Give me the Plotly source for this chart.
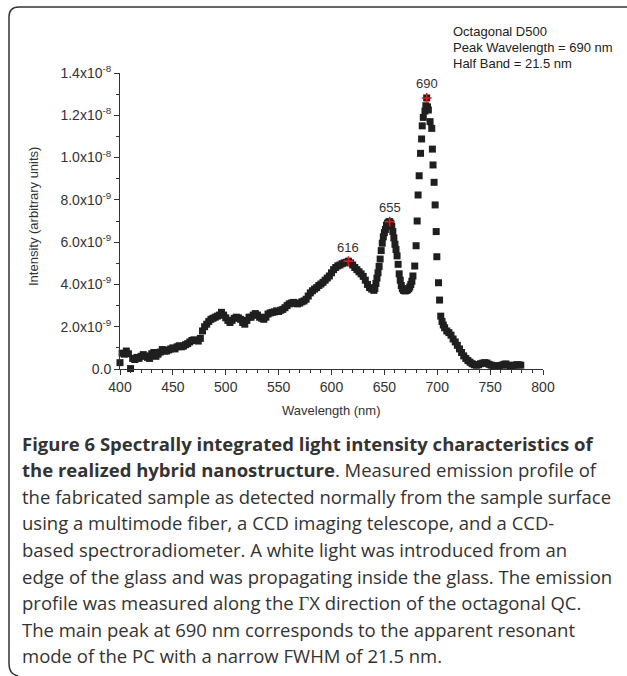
import plotly.graph_objects as go

# ---------------- data (intensity in units of 1e-9) ----------------
wl_a = list(range(400, 640, 2))
int_a = [0.30, 0.75, 0.70, 0.85, 0.72, 0.02, 0.50, 0.45, 0.55, 0.50,
         0.60, 0.68, 0.62, 0.55, 0.50, 0.72, 0.78, 0.60, 0.70, 0.80,
         0.92, 0.85, 0.85, 0.90, 0.95, 1.00, 0.95, 1.05, 1.10, 1.05,
         1.08, 1.15, 1.20, 1.28, 1.35, 1.38, 1.35, 1.32, 1.45, 1.80,
         2.00, 2.12, 2.25, 2.35, 2.40, 2.45, 2.50, 2.55, 2.68, 2.55,
         2.42, 2.30, 2.20, 2.30, 2.40, 2.45, 2.42, 2.35, 2.20, 2.12,
         2.30, 2.45, 2.45, 2.55, 2.62, 2.55, 2.45, 2.40, 2.35, 2.45,
         2.60, 2.65, 2.68, 2.70, 2.75, 2.72, 2.78, 2.82, 2.90, 3.00,
         3.08, 3.12, 3.15, 3.10, 3.08, 3.12, 3.18, 3.22, 3.30, 3.45,
         3.60, 3.70, 3.78, 3.85, 3.95, 4.02, 4.10, 4.20, 4.30, 4.40,
         4.55, 4.70, 4.80, 4.88, 4.92, 4.98, 5.02, 5.05, 5.10, 5.02,
         4.92, 4.80, 4.70, 4.60, 4.50, 4.38, 4.20, 4.00, 3.85, 3.78]

wl_b = [640, 641, 642, 643, 644, 645, 646, 647, 648, 649,
        650, 651, 652, 653, 654, 655, 656, 657, 658, 659,
        660, 661, 662, 663, 664, 665, 666, 667, 668, 669,
        670, 671, 672, 673, 674, 675, 676, 677, 678.7, 680.0,
        681.0, 681.9, 682.9, 684.2, 685.2, 685.8, 686.8, 688.4, 689.2, 690.0,
        690.8, 691.6, 693.2, 694.8, 695.4, 696.0, 697.0, 698.0, 699.0, 699.6,
        701.2, 702.2, 703.3, 704.5, 705.7]
int_b = [3.72, 3.80, 4.05, 4.30, 4.55, 4.85, 5.20, 5.60, 5.95, 6.25,
         6.45, 6.60, 6.80, 6.90, 6.95, 6.97, 6.90, 6.75, 6.50, 6.20,
         5.90, 5.65, 5.35, 4.95, 4.50, 4.20, 3.95, 3.80, 3.72, 3.70,
         3.70, 3.72, 3.75, 3.80, 3.88, 4.00, 4.15, 4.40, 4.87, 5.83,
         7.00, 8.23, 9.14, 10.20, 10.88, 11.50, 11.90, 12.20, 12.45, 12.82,
         12.40, 12.25, 11.70, 11.38, 10.40, 9.65, 8.83, 7.76, 6.50, 5.31,
         4.08, 3.26, 2.50, 2.25, 2.08]

wl_c = list(range(707, 781, 2))
int_c = [1.95, 1.80, 1.72, 1.60, 1.42, 1.28, 1.12, 0.95, 0.78, 0.62,
         0.50, 0.40, 0.32, 0.25, 0.20, 0.18, 0.20, 0.25, 0.28, 0.30,
         0.28, 0.22, 0.18, 0.15, 0.15, 0.13, 0.15, 0.18, 0.22, 0.24,
         0.18, 0.14, 0.15, 0.18, 0.20, 0.20, 0.18]

peak_wl = [616, 655, 690]
peak_int = [5.10, 6.97, 12.82]
peak_labels = ["616", "655", "690"]

y_tickvals = [0, 2, 4, 6, 8, 10, 12, 14]
y_ticktext = ["0.0", "2.0x10<sup>-9</sup>", "4.0x10<sup>-9</sup>", "6.0x10<sup>-9</sup>",
              "8.0x10<sup>-9</sup>", "1.0x10<sup>-8</sup>", "1.2x10<sup>-8</sup>",
              "1.4x10<sup>-8</sup>"]

info_lines = ["Octagonal D500", "Peak Wavelength = 690 nm", "Half Band = 21.5 nm"]

caption_lines = [
    "<b>Figure 6 Spectrally integrated light intensity characteristics of</b>",
    "<b>the realized hybrid nanostructure</b>. Measured emission profile of",
    "the fabricated sample as detected normally from the sample surface",
    "using a multimode fiber, a CCD imaging telescope, and a CCD-",
    "based spectroradiometer. A white light was introduced from an",
    "edge of the glass and was propagating inside the glass. The emission",
    "profile was measured along the <span style='font-family:Liberation Serif'>Γ</span>X direction of the octagonal QC.",
    "The main peak at 690 nm corresponds to the apparent resonant",
    "mode of the PC with a narrow FWHM of 21.5 nm.",
]

# ---------------- layout geometry ----------------
W, H = 627, 676
L, R, T, B = 120, 543, 73, 369  # plot area in px


def px(xp):
    return (xp - L) / (R - L)


def py(yp):
    return (B - yp) / (B - T)


scale = 1e-9
wl = wl_a + wl_b + wl_c
inten = [v * scale for v in int_a + int_b + int_c]

fig = go.Figure()
fig.add_trace(go.Scatter(
    x=wl, y=inten, mode="markers", cliponaxis=False,
    marker=dict(symbol="square", size=7, color="#1f1f1f", line=dict(width=0)),
    showlegend=False, hoverinfo="skip"))
fig.add_trace(go.Scatter(
    x=peak_wl, y=[v * scale for v in peak_int], mode="markers", cliponaxis=False,
    marker=dict(symbol="cross-thin", size=7, color="#e8141c",
                line=dict(width=1.6, color="#e8141c")),
    showlegend=False, hoverinfo="skip"))

SANS = "Liberation Sans, Arial, sans-serif"
tickfont = dict(family=SANS, size=14, color="#333333")
titlefont = dict(family=SANS, size=13, color="#333333")
axis_common = dict(showline=True, linecolor="#333333", linewidth=1, ticks="outside",
                   ticklen=5, tickwidth=1, tickcolor="#333333", showgrid=False,
                   zeroline=False, tickfont=tickfont)

fig.update_layout(
    width=W, height=H, margin=dict(l=L, r=W - R, t=T, b=H - B),
    paper_bgcolor="white", plot_bgcolor="white", showlegend=False,
    xaxis=dict(range=[400, 800], tickvals=list(range(400, 801, 50)),
               minor=dict(dtick=10, tick0=400, ticklen=3, ticks="outside",
                          tickcolor="#333333", showgrid=False),
               **axis_common),
    yaxis=dict(range=[0, 14 * scale], tickvals=[v * scale for v in y_tickvals],
               ticktext=y_ticktext,
               minor=dict(dtick=1 * scale, tick0=0, ticklen=3, ticks="outside",
                          tickcolor="#333333", showgrid=False),
               **axis_common),
)

annos = []
# axis titles
annos.append(dict(text="Intensity (arbitrary units)", xref="paper", yref="paper",
                  x=px(33), y=py(217), textangle=-90, showarrow=False,
                  xanchor="center", yanchor="middle", font=titlefont))
annos.append(dict(text="Wavelength (nm)", xref="paper", yref="paper",
                  x=px(331), y=py(410), showarrow=False,
                  xanchor="center", yanchor="middle", font=titlefont))
# peak labels
for w_, v_, t_ in zip(peak_wl, peak_int, peak_labels):
    annos.append(dict(text=t_, x=w_, y=v_ * scale, xref="x", yref="y",
                      showarrow=False, yshift=14, xanchor="center", yanchor="middle",
                      font=dict(family=SANS, size=13, color="#333333")))
# info text top right
for i, t_ in enumerate(info_lines):
    annos.append(dict(text=t_, xref="paper", yref="paper", x=px(451), y=py(31 + 16.5 * i),
                      xanchor="left", yanchor="middle", showarrow=False,
                      font=dict(family=SANS, size=13, color="#222222")))
# caption
for i, t_ in enumerate(caption_lines):
    annos.append(dict(text=t_, xref="paper", yref="paper", x=px(20), y=py(443 + 26.6 * i),
                      xanchor="left", yanchor="middle", showarrow=False,
                      font=dict(family="Open Sans, sans-serif", size=18.5, color="#333333")))
fig.update_layout(annotations=annos)

# frame (top line + left side with rounded corners)
path = (f"M {px(627)},{py(7)} L {px(19)},{py(7)} Q {px(9)},{py(7)} {px(9)},{py(17)} "
        f"L {px(9)},{py(664)} Q {px(9)},{py(674)} {px(18)},{py(676)}")
fig.add_shape(type="path", path=path, xref="paper", yref="paper",
              line=dict(color="#333333", width=1.5))

fig.write_html("out.html", config={"displayModeBar": False},
               post_script="document.body.style.margin='0px';")
